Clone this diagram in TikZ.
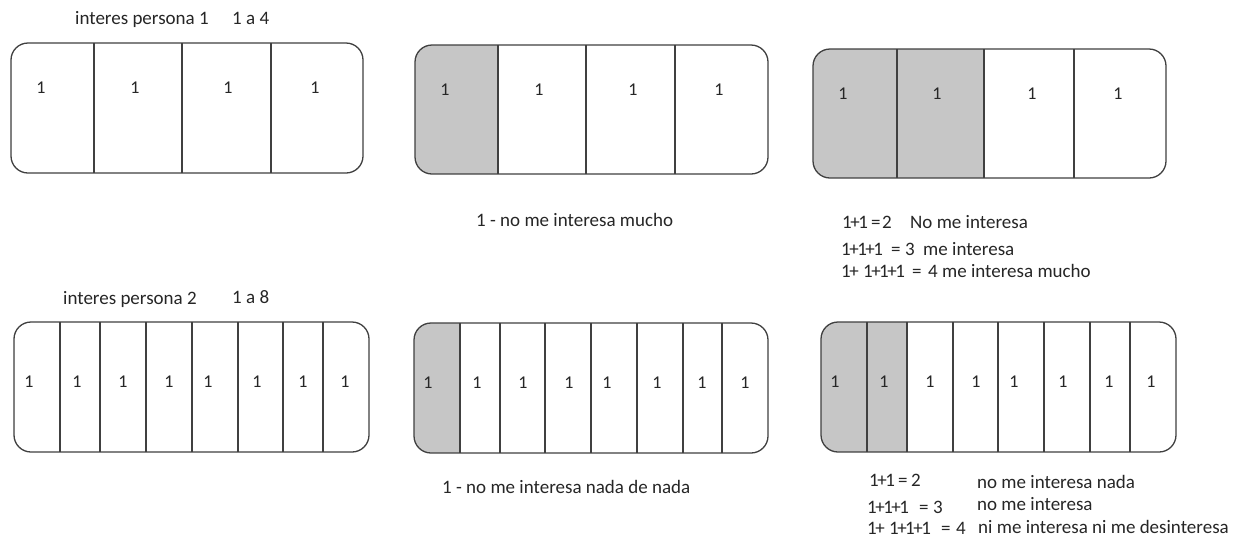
\documentclass[tikz,border=0pt]{standalone}
\usepackage{fontspec}
\setmainfont{Carlito}
\definecolor{ln}{HTML}{404040}
\definecolor{gr}{HTML}{C6C6C6}
\definecolor{tx}{HTML}{262626}
\newcommand\tp{\kern-1.5pt+\kern-1.5pt}
\newcommand\tpl{\kern-1.5pt+}
\tikzset{
 frame/.style={draw=ln, line width=1.3pt, rounded corners=17pt},
 divider/.style={draw=ln, line width=1.3pt},
 num/.style={text=tx, font=\fontsize{18}{21}\selectfont, inner sep=0pt},
 lbl/.style={text=tx, font=\fontsize{19}{22}\selectfont, inner sep=0pt, anchor=base west},
}
\newcommand\panelstrip[6]{% l, t, r, b, dividers, gray-end x
 \begin{scope}
  \clip[rounded corners=17pt] (#1,#2) rectangle (#3,#4);
  \fill[gr] (#1,#2) rectangle (#6,#4);
 \end{scope}
 \foreach \d in {#5} \draw[divider] (\d,#2) -- (\d,#4);
 \draw[frame] (#1,#2) rectangle (#3,#4);
}
\begin{document}
\begin{tikzpicture}[x=1pt,y=-1pt]
\useasboundingbox[fill=white] (0,0) rectangle (1239,539);

% titles
\node[lbl] (t1) at (75,24) {interes persona 1};
\node[lbl] (t1r) at (232,24) {1 a 4};
\node[lbl] (t2) at (63,304) {interes persona 2};
\node[lbl] (t2r) at (232,303) {1 a 8};

% row 1
\panelstrip{11}{43}{363}{173}{94,182,271}{11}
\foreach \x [count=\i] in {41,135,228,315} \node[num] (a\i) at (\x,88) {1};
\panelstrip{415}{45}{768}{174}{498,586,675}{498}
\foreach \x [count=\i] in {445,539,633,719} \node[num] (b\i) at (\x,90) {1};
\panelstrip{813}{49}{1166}{178}{897,984,1074}{984}
\foreach \x [count=\i] in {843,937,1032,1118} \node[num] (c\i) at (\x,94) {1};

% row 2
\panelstrip{14}{322}{369}{452}{60,100,146,192,238,283,323}{14}
\foreach \x [count=\i] in {29,77,123,169,208,257,303,345} \node[num] (d\i) at (\x,382) {1};
\panelstrip{414}{323}{768}{453}{460,500,545,591,637,683,722}{460}
\foreach \x [count=\i] in {428,477,523,569,607,657,702,745} \node[num] (e\i) at (\x,383) {1};
\panelstrip{821}{322}{1176}{452}{867,907,953,998,1044,1090,1130}{907}
\foreach \x [count=\i] in {835,884,930,976,1014,1063,1109,1151} \node[num] (f\i) at (\x,382) {1};

% captions
\node[lbl] (cap1) at (476,226) {1 - no me interesa mucho};
\node[lbl] (cap2) at (442,493) {1 - no me interesa nada de nada};

\node[lbl] (r1a) at (842,228) {1\tp1};
\node[lbl] (r1b) at (871,228) {=};
\node[lbl] (r1c) at (882,228) {2};
\node[lbl] (r1d) at (910,228) {No me interesa};
\node[lbl] (r2a) at (841,255) {1\tp1\tp1};
\node[lbl] (r2b) at (891,255) {=};
\node[lbl] (r2c) at (905,255) {3};
\node[lbl] (r2d) at (923,255) {me interesa};
\node[lbl] (r3a) at (841,277) {1\tpl{} 1\tp1\tp1};
\node[lbl] (r3b) at (912,277) {=};
\node[lbl] (r3c) at (928,277) {4 me interesa mucho};

\node[lbl] (s1a) at (869,486) {1\tp1};
\node[lbl] (s1b) at (898,486) {=};
\node[lbl] (s1c) at (911,486) {2};
\node[lbl] (s1d) at (977,488) {no me interesa nada};
\node[lbl] (s2a) at (867,513) {1\tp1\tp1};
\node[lbl] (s2b) at (919,513) {=};
\node[lbl] (s2c) at (933,513) {3};
\node[lbl] (s2d) at (977,510) {no me interesa};
\node[lbl] (s3a) at (867,534) {1\tpl{} 1\tp1\tp1};
\node[lbl] (s3b) at (941,534) {=};
\node[lbl] (s3c) at (956,534) {4};
\node[lbl] (s3d) at (978,533) {ni me interesa ni me desinteresa};
\end{tikzpicture}
\end{document}
